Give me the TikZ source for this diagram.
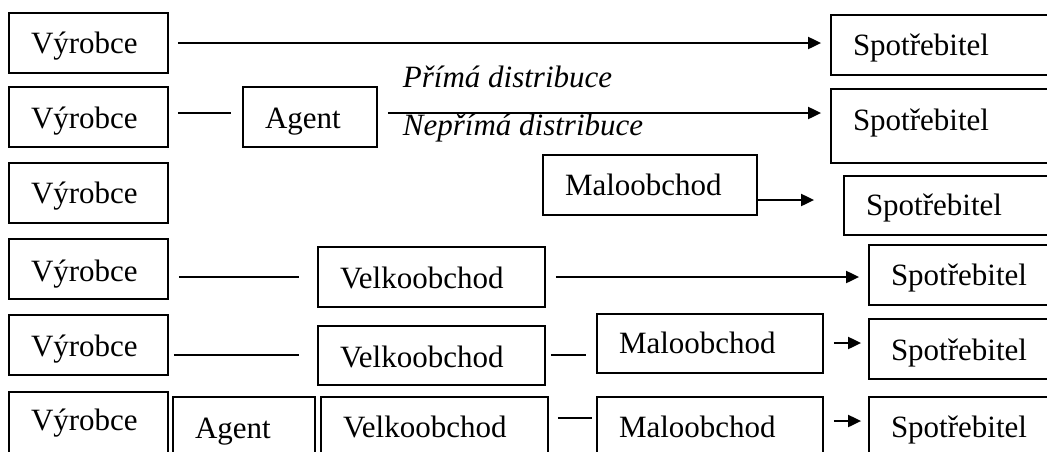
\documentclass[tikz,border=0pt]{standalone}
\usepackage{fontspec}
\setmainfont{Liberation Serif}
\usetikzlibrary{arrows.meta}

\begin{document}
\begin{tikzpicture}[x=1pt,y=-1pt]
\tikzstyle{every node} = [draw,rectangle,line width=1.8pt,inner xsep=22pt,inner ysep=0pt,text depth=0pt,align=left,font=\fontsize{31}{37}\selectfont];
\tikzstyle{conn} = [line width=2pt];
\tikzstyle{arr} = [conn,-{Triangle[length=13pt,width=12pt]}];
\tikzstyle{lbl} = [draw=none,inner sep=0pt,anchor=base west,font=\fontsize{31}{37}\selectfont\itshape];
\useasboundingbox (0,0) rectangle (1047,451);
\clip (0,0) rectangle (1047,451);
% boxes: name/left/top/right/bottom/baseline/text
\foreach \n/\xa/\ya/\xb/\yb/\bl/\t in {
	v1/9/13/168/73/40/Výrobce, s1/831/15/1060/75/40/Spotřebitel,
	v2/9/87/168/147/41/Výrobce, a2/243/87/377/147/41/Agent, s2/831/89/1060/163/41/Spotřebitel,
	v3/9/163/168/223/40/Výrobce, m3/543/155/757/215/40/Maloobchod, s3/844/176/1060/235/39/Spotřebitel,
	v4/9/239/168/299/42/Výrobce, k4/318/247/545/307/41/Velkoobchod, s4/869/245/1060/305/40/Spotřebitel,
	v5/9/315/168/375/41/Výrobce, k5/318/326/545/385/41/Velkoobchod, m5/597/314/823/373/39/Maloobchod, s5/869/319/1060/379/41/Spotřebitel,
	v6/9/392/168/460/38/Výrobce, a6/173/397/315/460/41/Agent, k6/321/397/548/460/40/Velkoobchod, m6/597/397/823/460/40/Maloobchod, s6/869/397/1060/460/40/Spotřebitel}{
	\pgfmathsetmacro\cx{(\xa+\xb)/2}
	\pgfmathsetmacro\cy{(\ya+\yb)/2}
	\pgfmathsetmacro\bw{\xb-\xa-44}
	\pgfmathsetmacro\bh{\yb-\ya}
	\pgfmathsetmacro\bt{2*\bl-\bh}
	\node at (\cx,\cy) [text width=\bw pt,minimum height=\bh pt,text height=\bt pt] (\n) {\t};
}
% plain lines
\foreach \a/\b/\sa/\sb/\y in {v2/a2/9/11/113, v4/k4/10/18/277, v5/k5/5/18/355, k5/m5/5/10/355, k6/m6/9/4/418}{
	\draw [conn] ([xshift=\sa pt]\a.east |- 0,\y) -- ([xshift=-\sb pt]\b.west |- 0,\y);
}
% arrows
\foreach \a/\b/\sa/\sb/\y in {v1/s1/9/9/43, a2/s2/10/9/113, m3/s3/0/29/200, k4/s4/10/9/277, m5/s5/10/7/343, m6/s6/10/7/421}{
	\draw [arr] ([xshift=\sa pt]\a.east |- 0,\y) -- ([xshift=-\sb pt]\b.west |- 0,\y);
}
\node at (402,87) [lbl] (prima) {Přímá distribuce};
\node at (402,135) [lbl] (neprima) {Nepřímá distribuce};
\end{tikzpicture}
\end{document}
